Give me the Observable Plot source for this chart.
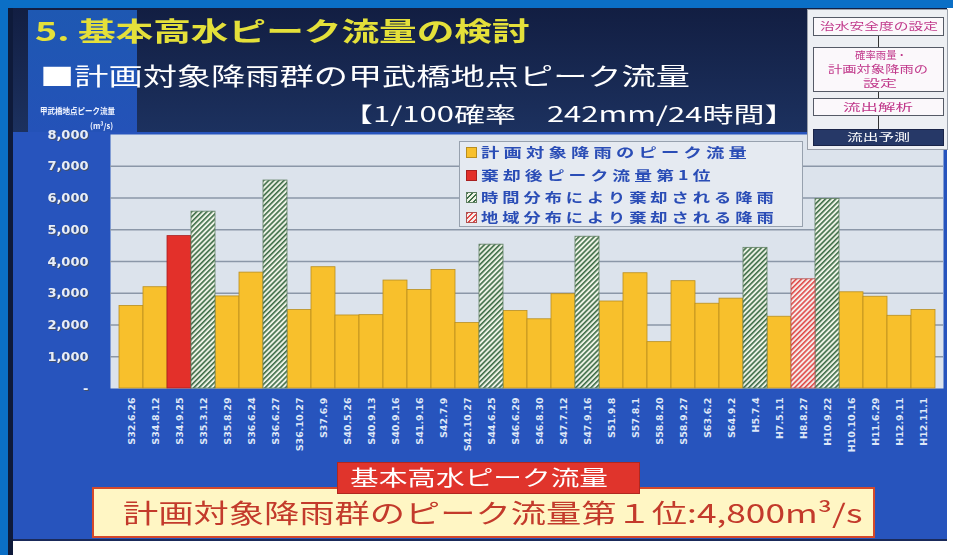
<!DOCTYPE html>
<html><head><meta charset="utf-8">
<script src="https://cdn.jsdelivr.net/npm/d3@7"></script>
<script src="https://cdn.jsdelivr.net/npm/@observablehq/plot@0.6"></script>
<style>
html,body{margin:0;padding:0;background:#fff;}
#page{position:relative;width:953px;height:555px;overflow:hidden;background:#fff;font-family:"Noto Sans CJK JP","Noto Sans",sans-serif;}
.abs{position:absolute;box-sizing:border-box;}
.fit{position:absolute;white-space:nowrap;transform-origin:0 0;line-height:1;}
#chart{position:absolute;left:0;top:0;}
#chart svg{overflow:visible;}
#chart g[aria-label="y-axis tick label"]{filter:drop-shadow(1px 1px 0 rgba(70,80,100,0.9));}
.lg{color:#2A4DB6;font-weight:700;font-size:13px;letter-spacing:3px;}
.fc{color:#C0378A;font-size:10px;}
</style></head><body>
<div id="page">
  <!-- frame and slide backgrounds -->
  <div class="abs" style="left:0;top:0;width:953px;height:8px;background:#0B6FC6"></div>
  <div class="abs" style="left:0;top:0;width:8px;height:555px;background:#0B6FC6"></div>
  <div class="abs" style="left:8px;top:8px;width:5px;height:547px;background:#0E1A3A"></div>
  <div class="abs" style="left:13px;top:8px;width:934px;height:533px;background:#2754BD;border-bottom:2px solid #1A2A5A"></div>
  <div class="abs" style="left:13px;top:8px;width:934px;height:124px;background:linear-gradient(#121E42,#1C315F)"></div>
  <div class="abs" style="left:28px;top:10px;width:109px;height:122px;background:linear-gradient(#1E58B2,#2452B8)"></div>

  <!-- header texts -->
  <div class="fit" data-w="495" style="left:35px;top:17px;font-size:26px;font-weight:700;color:#E4E03A">5. 基本高水ピーク流量の検討</div>
  <div class="fit" data-w="650" style="left:40px;top:63px;font-size:24px;color:#FFFFFF">■計画対象降雨群の甲武橋地点ピーク流量</div>
  <div class="fit" data-w="453" style="left:342px;top:103px;font-size:21px;color:#FFFFFF">【1/100確率　242mm/24時間】</div>
  <div class="fit" data-w="75" style="left:40px;top:107px;font-size:8px;font-weight:700;color:#F0F4FF">甲武橋地点ピーク流量</div>
  <div class="fit" data-w="23" style="left:90px;top:122px;font-size:8px;font-weight:700;color:#F0F4FF">(m³/s)</div>

  <div id="chart"></div>

  <!-- flowchart -->
  <div class="abs" style="left:807px;top:9px;width:141px;height:141px;background:#EDEFF3;border:1px solid #9AA0AA"></div>
  <div class="abs" style="left:813px;top:17px;width:131px;height:19px;background:#FBF8FB;border:1px solid #555A66"></div>
  <div class="abs" style="left:878px;top:36px;width:1px;height:11px;background:#333"></div>
  <div class="abs" style="left:813px;top:47px;width:131px;height:45px;background:#FBF8FB;border:1px solid #555A66"></div>
  <div class="abs" style="left:878px;top:92px;width:1px;height:6px;background:#333"></div>
  <div class="abs" style="left:813px;top:98px;width:131px;height:18px;background:#FBF8FB;border:1px solid #555A66"></div>
  <div class="abs" style="left:878px;top:116px;width:1px;height:13px;background:#333"></div>
  <div class="abs" style="left:813px;top:129px;width:131px;height:17px;background:#263867;border:1px solid #1A2448"></div>
  <div class="fit fc" data-w="118" style="left:820px;top:21px;">治水安全度の設定</div>
  <div class="fit fc" data-w="52" style="left:855px;top:50px;">確率雨量・</div>
  <div class="fit fc" data-w="100" style="left:828px;top:64px;">計画対象降雨の</div>
  <div class="fit fc" data-w="34" style="left:863px;top:78px;">設定</div>
  <div class="fit fc" data-w="70" style="left:843px;top:102px;">流出解析</div>
  <div class="fit fc" data-w="63" style="left:847px;top:132px;color:#FFFFFF">流出予測</div>

  <!-- legend -->
  <div class="abs" style="left:459px;top:141px;width:344px;height:86px;background:#E5EAF1;border:1px solid #97A1AE"></div>
  <div class="abs" style="left:466px;top:147px;width:11px;height:11px;background:#F8C02C;border:1px solid #B98E1E"></div>
  <div class="abs" style="left:466px;top:170px;width:11px;height:11px;background:#E3302A;border:1px solid #A82020"></div>
  <div class="abs" style="left:466px;top:192px;width:11px;height:11px;border:1px solid #5F7F62;background:repeating-linear-gradient(135deg,#3F6E48 0 1.4px,#EEF2E6 1.4px 3.4px)"></div>
  <div class="abs" style="left:466px;top:212px;width:11px;height:11px;border:1px solid #B05050;background:repeating-linear-gradient(135deg,#E04A48 0 1.4px,#F6ECEA 1.4px 3.4px)"></div>
  <div class="fit lg" data-w="270" style="left:481px;top:145px;">計画対象降雨のピーク流量</div>
  <div class="fit lg" data-w="234" style="left:481px;top:168px;">棄却後ピーク流量第1位</div>
  <div class="fit lg" data-w="297" style="left:481px;top:190px;">時間分布により棄却される降雨</div>
  <div class="fit lg" data-w="297" style="left:481px;top:210px;">地域分布により棄却される降雨</div>

  <!-- bottom boxes -->
  <div class="abs" style="left:92px;top:487px;width:783px;height:51px;background:#FFF6C4;border:2px solid #D4492A"></div>
  <div class="abs" style="left:337px;top:462px;width:303px;height:32px;background:#E0342C;border:1px solid #B02820"></div>
  <div class="fit" data-w="258" style="left:350px;top:466px;font-size:21px;color:#FFFFFF">基本高水ピーク流量</div>
  <div class="fit" data-w="739" style="left:123px;top:499px;font-size:26px;color:#C33A2B">計画対象降雨群のピーク流量第１位:4,800m³/s</div>
</div>
<script>
const labels = ["S32.6.26","S34.8.12","S34.9.25","S35.3.12","S35.8.29","S36.6.24","S36.6.27","S36.10.27","S37.6.9","S40.5.26","S40.9.13","S40.9.16","S41.9.16","S42.7.9","S42.10.27","S44.6.25","S46.6.29","S46.8.30","S47.7.12","S47.9.16","S51.9.8","S57.8.1","S58.8.20","S58.9.27","S63.6.2","S64.9.2","H5.7.4","H7.5.11","H8.8.27","H10.9.22","H10.10.16","H11.6.29","H12.9.11","H12.11.1"];
const peaks = [2600,3190,4800,5570,2900,3650,6550,2470,3820,2300,2310,3400,3100,3730,2060,4530,2440,2180,2970,4780,2740,3630,1460,3380,2670,2830,4430,2260,3440,5970,3030,2890,2290,2470];
const kinds = ["plan","plan","top","time","plan","plan","time","plan","plan","plan",
               "plan","plan","plan","plan","plan","time","plan","plan","plan","time",
               "plan","plan","plan","plan","plan","plan","time","plan","area","time",
               "plan","plan","plan","plan"];
const yTicks = [0,1000,2000,3000,4000,5000,6000,7000,8000];
const gridLines = [1000,2000,3000,4000,5000,6000,7000];

const data = labels.map((l,i)=>({label:l, value:peaks[i], kind:kinds[i]}));
const of = k => data.filter(d=>d.kind===k);

const svg = Plot.plot({
  width:953, height:555,
  marginTop:134, marginBottom:167, marginLeft:110, marginRight:10,
  style:{background:"transparent", overflow:"visible"},
  x:{domain:labels, padding:0, axis:null},
  y:{domain:[0,8000], axis:null},
  marks:[
    Plot.frame({fill:"#DCE3EC", stroke:"none"}),
    Plot.ruleY(gridLines, {stroke:"#8B97A8", strokeWidth:1.3}),
    Plot.barY(of("plan"), {x:"label", y:"value", fill:"#F8C02C", stroke:"#B98E1E", strokeWidth:0.8}),
    Plot.barY(of("top"), {x:"label", y:"value", fill:"#E3302A", stroke:"#A82020", strokeWidth:0.8}),
    Plot.barY(of("time"), {x:"label", y:"value", fill:"url(#hatchG)", stroke:"#5F7F62", strokeWidth:0.8}),
    Plot.barY(of("area"), {x:"label", y:"value", fill:"url(#hatchR)", stroke:"#B05050", strokeWidth:0.8}),
    Plot.axisY({ticks:yTicks, label:null, tickFormat:d => d===0 ? "-" : d3.format(",")(d), tickSize:0, tickPadding:22,
      fontSize:13, fontWeight:"bold", fontFamily:"DejaVu Sans", fill:"#E8EEF8"}),
    Plot.axisX({label:null, tickRotate:-90, tickSize:0, tickPadding:9,
      fontSize:9.5, fontWeight:"bold", fontFamily:"DejaVu Sans", fill:"#DDE7F8"})
  ]
});
const defs = d3.select(svg).insert("defs", ":first-child");
function hatch(id, bg, fg){
  const p = defs.append("pattern").attr("id", id).attr("patternUnits","userSpaceOnUse")
    .attr("width", 3.6).attr("height", 3.6).attr("patternTransform","rotate(45)");
  p.append("rect").attr("width",3.6).attr("height",3.6).attr("fill",bg);
  p.append("rect").attr("width",1.6).attr("height",3.6).attr("fill",fg);
}
hatch("hatchG", "#EEF2E6", "#3F6E48");
hatch("hatchR", "#F6ECEA", "#E04A48");
document.getElementById("chart").appendChild(svg);

function fitAll(){
  document.querySelectorAll(".fit").forEach(el=>{
    el.style.transform = "none";
    const w0 = el.offsetWidth;
    const w = +el.dataset.w;
    if (w0 > 0) el.style.transform = `scaleX(${w/w0})`;
  });
}
fitAll();
if (document.fonts && document.fonts.ready) document.fonts.ready.then(fitAll);
</script>
</body></html>
